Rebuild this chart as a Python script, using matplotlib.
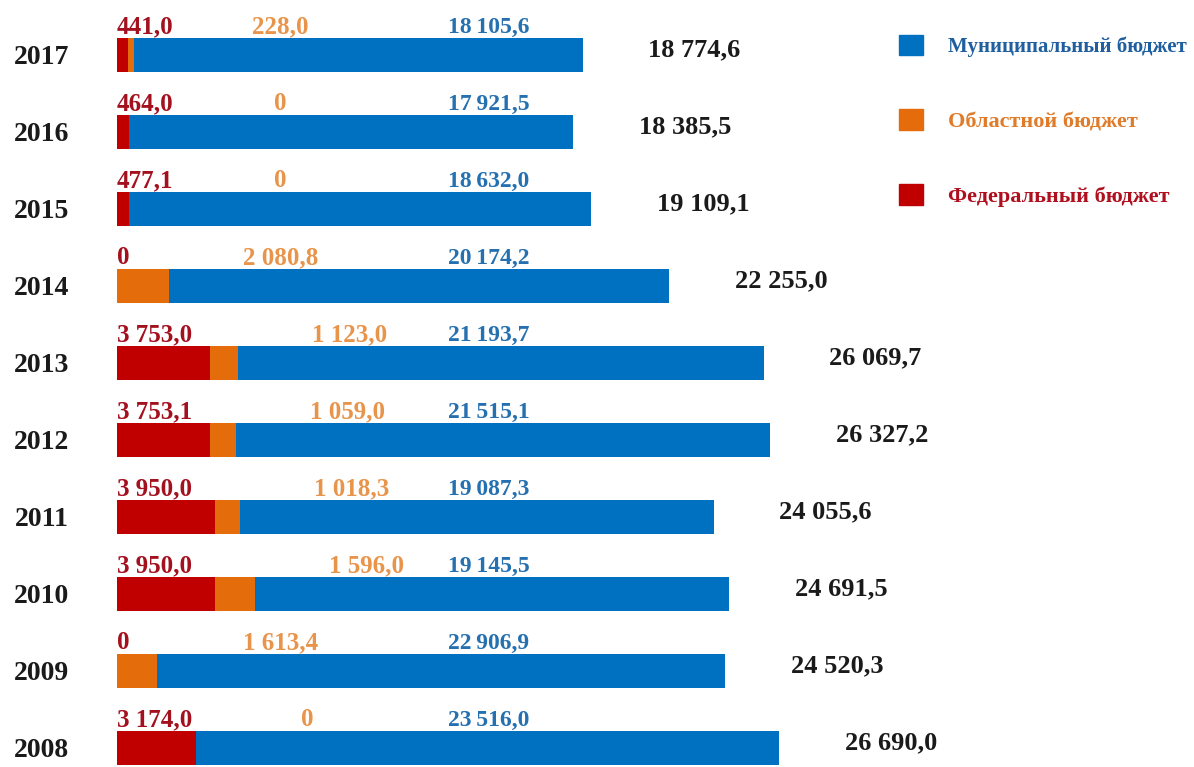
import matplotlib.pyplot as plt
from matplotlib.patches import Patch

years = ['2017', '2016', '2015', '2014', '2013', '2012', '2011', '2010', '2009', '2008']
federal = [441.0, 464.0, 477.1, 0, 3753.0, 3753.1, 3950.0, 3950.0, 0, 3174.0]
regional = [228.0, 0, 0, 2080.8, 1123.0, 1059.0, 1018.3, 1596.0, 1613.4, 0]
municipal = [18105.6, 17921.5, 18632.0, 20174.2, 21193.7, 21515.1, 19087.3, 19145.5, 22906.9, 23516.0]
totals = [18774.6, 18385.5, 19109.1, 22255.0, 26069.7, 26327.2, 24055.6, 24691.5, 24520.3, 26690.0]

legend_labels = ['Муниципальный бюджет', 'Областной бюджет', 'Федеральный бюджет']

c_fed = '#C00000'
c_reg = '#E46C0A'
c_mun = '#0070C0'
t_fed = '#A3101E'
t_reg = '#E8944A'
t_mun = '#2470B0'


def fmt(v, sep=' '):
    if v == 0:
        return '0'
    s = f'{v:,.1f}'
    return s.replace(',', sep).replace('.', ',')


plt.rcParams['font.family'] = ['Liberation Serif', 'DejaVu Serif']
plt.rcParams['font.weight'] = 'bold'

fig = plt.figure(figsize=(11.94, 7.67), dpi=100)
ax = fig.add_axes([0, 0, 1, 1])

pos = list(range(len(years)))
h = 0.44
left_reg = [f for f in federal]
left_mun = [f + r for f, r in zip(federal, regional)]

ax.barh(pos, federal, height=h, color=c_fed)
ax.barh(pos, regional, left=left_reg, height=h, color=c_reg)
ax.barh(pos, municipal, left=left_mun, height=h, color=c_mun)

ytr = ax.get_yaxis_transform()
for i in pos:
    ax.text(0.035, i + 0.035, years[i], transform=ytr, ha='center', va='center',
            fontsize=20, color='#1a1a1a')
    base = i - h / 2 - 0.06
    ax.text(0, base, fmt(federal[i]), ha='left', va='baseline', fontsize=18, color=t_fed)
    xo = max(6600, federal[i] + regional[i] + 4500)
    ax.text(xo, base, fmt(regional[i]), ha='center', va='baseline', fontsize=18, color=t_reg)
    ax.text(15000, base, fmt(municipal[i], '\u2009'), ha='center', va='baseline',
            fontsize=17, color=t_mun)
    ax.text(totals[i] + 2650, i - 0.07, fmt(totals[i]), ha='left', va='center',
            fontsize=19, color='#1a1a1a')

ax.set_xlim(-4720, 43430)
ax.set_ylim(9.25, -0.714)
ax.axis('off')

handles = [Patch(color=c_mun), Patch(color=c_reg), Patch(color=c_fed)]
leg = ax.legend(handles, legend_labels, loc='upper left', bbox_to_anchor=(0.736, 0.981),
                frameon=False, handlelength=1.1, handleheight=1.05,
                handletextpad=1.13, labelspacing=2.33,
                labelcolor=['#1F5F9F', '#E07B2A', '#B0101E'],
                prop={'family': 'Liberation Serif', 'weight': 'bold', 'size': 16})
leg.get_texts()[0].set_fontsize(15)

fig.savefig('out.png', dpi=100)
